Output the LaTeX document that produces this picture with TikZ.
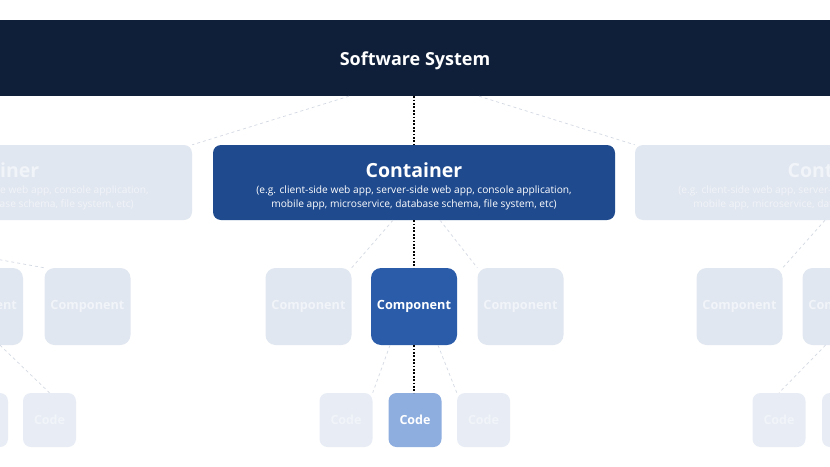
\documentclass[tikz,border=0pt]{standalone}
\usepackage{fontspec}
\setmainfont{Open Sans}
\definecolor{barblue}{HTML}{0F1F3A}
\definecolor{contblue}{HTML}{1F4A8E}
\definecolor{compblue}{HTML}{2A5CAA}
\definecolor{codeblue}{HTML}{8EAEE0}
\definecolor{fadebox}{HTML}{E1E7F0}
\definecolor{fadecode}{HTML}{E8EDF5}
\definecolor{fadetext}{HTML}{F1F4F9}
\definecolor{fadeline}{HTML}{D3D9E3}
\newcommand{\comptext}{\raisebox{-3pt}{Component}}
\tikzset{
  contbox/.style={rectangle, rounded corners=8pt, minimum width=402pt, minimum height=75pt, inner sep=0pt},
  compbox/.style={rectangle, rounded corners=10pt, minimum width=86pt, minimum height=77pt, inner sep=0pt, font=\fontsize{12.7}{14}\selectfont\bfseries},
  codebox/.style={rectangle, rounded corners=8pt, minimum width=53pt, minimum height=54pt, inner sep=0pt, font=\fontsize{12.5}{14}\selectfont\bfseries},
  fadedline/.style={draw=fadeline, dashed, line width=0.7pt},
  dotline/.style={draw=black, line width=1.7pt, dash pattern=on 1.7pt off 1.7pt},
  titletext/.style={font=\fontsize{19.5}{22}\selectfont\bfseries},
  desctext/.style={font=\fontsize{10.2}{14}\selectfont, align=center}
}
\begin{document}
\begin{tikzpicture}[x=1pt,y=-1pt]
\useasboundingbox (0,0) rectangle (830,466);
\clip (0,0) rectangle (830,466);
\fill[white] (0,0) rectangle (830,466);
% top bar
\node[fill=barblue, minimum width=840pt, minimum height=76pt, inner sep=0pt] (sys) at (415,58) {};
\node[text=white, font=\fontsize{18}{20}\selectfont\bfseries] (sysT) at (415,60.5) {Software System};
% containers
\node[contbox, fill=fadebox] (contL) at (-9,182.5) {};
\node[contbox, fill=contblue] (cont) at (414,182.5) {};
\node[contbox, fill=fadebox] (contR) at (836,182.5) {};
\node[titletext, text=white] (contT) at (414,170) {Container};
\node[desctext, text=white] (contD) at (414,197.5) {(e.g. client-side web app, server-side web app, console application,\\mobile app, microservice, database schema, file system, etc)};
\node[titletext, text=fadetext] (contLT) at (-9,170) {Container};
\node[desctext, text=fadetext] (contLD) at (-9,197.5) {(e.g. client-side web app, server-side web app, console application,\\mobile app, microservice, database schema, file system, etc)};
\node[titletext, text=fadetext] (contRT) at (836,170) {Container};
\node[desctext, text=fadetext] (contRD) at (836,197.5) {(e.g. client-side web app, server-side web app, console application,\\mobile app, microservice, database schema, file system, etc)};
% components
\node[compbox, fill=fadebox, text=fadetext] (cL1) at (-20,306.5) {\comptext};
\node[compbox, fill=fadebox, text=fadetext] (cL2) at (87.5,306.5) {\comptext};
\node[compbox, fill=fadebox, text=fadetext] (cM1) at (308.5,306.5) {\comptext};
\node[compbox, fill=compblue, text=white] (comp) at (414,306.5) {\comptext};
\node[compbox, fill=fadebox, text=fadetext] (cM3) at (520.5,306.5) {\comptext};
\node[compbox, fill=fadebox, text=fadetext] (cR1) at (739.5,306.5) {\comptext};
\node[compbox, fill=fadebox, text=fadetext] (cR2) at (845.5,306.5) {\comptext};
% code
\node[codebox, fill=fadecode, text=fadetext] (kL1) at (-18.5,420) {Code};
\node[codebox, fill=fadecode, text=fadetext] (kL2) at (49.5,420) {Code};
\node[codebox, fill=fadecode, text=fadetext] (kM1) at (346,420) {Code};
\node[codebox, fill=codeblue, text=white] (code) at (415,420) {Code};
\node[codebox, fill=fadecode, text=fadetext] (kM3) at (483.5,420) {Code};
\node[codebox, fill=fadecode, text=fadetext] (kR1) at (779,420) {Code};
\node[codebox, fill=fadecode, text=fadetext] (kR2) at (848.5,420) {Code};
% dotted connectors
\draw[dotline] (sys.south -| cont.north) -- (cont.north);
\draw[dotline] (cont.south) -- (comp.north);
\draw[dotline] (comp.south) -- (comp.south |- code.north);
% faded connectors
\draw[fadedline] ([xshift=-66pt]sys.south) -- (contL.north east);
\draw[fadedline] ([xshift=64pt]sys.south) -- (contR.north west);
\draw[fadedline] ([xshift=-210pt]contL.south) -- (cL2.north west);
\draw[fadedline] ([xshift=-21pt]cont.south) -- (cM1.north east);
\draw[fadedline] ([xshift=26pt]cont.south) -- (cM3.north west);
\draw[fadedline] ([xshift=-11pt]contR.south) -- (cR1.north east);
\draw[fadedline] ([xshift=20pt]cL1.south) -- (kL2.north);
\draw[fadedline] ([xshift=-24pt]comp.south) -- (kM1.north east);
\draw[fadedline] ([xshift=24pt]comp.south) -- (kM3.north west);
\draw[fadedline] ([xshift=-20pt]cR2.south) -- (kR1.north);
\end{tikzpicture}
\end{document}
